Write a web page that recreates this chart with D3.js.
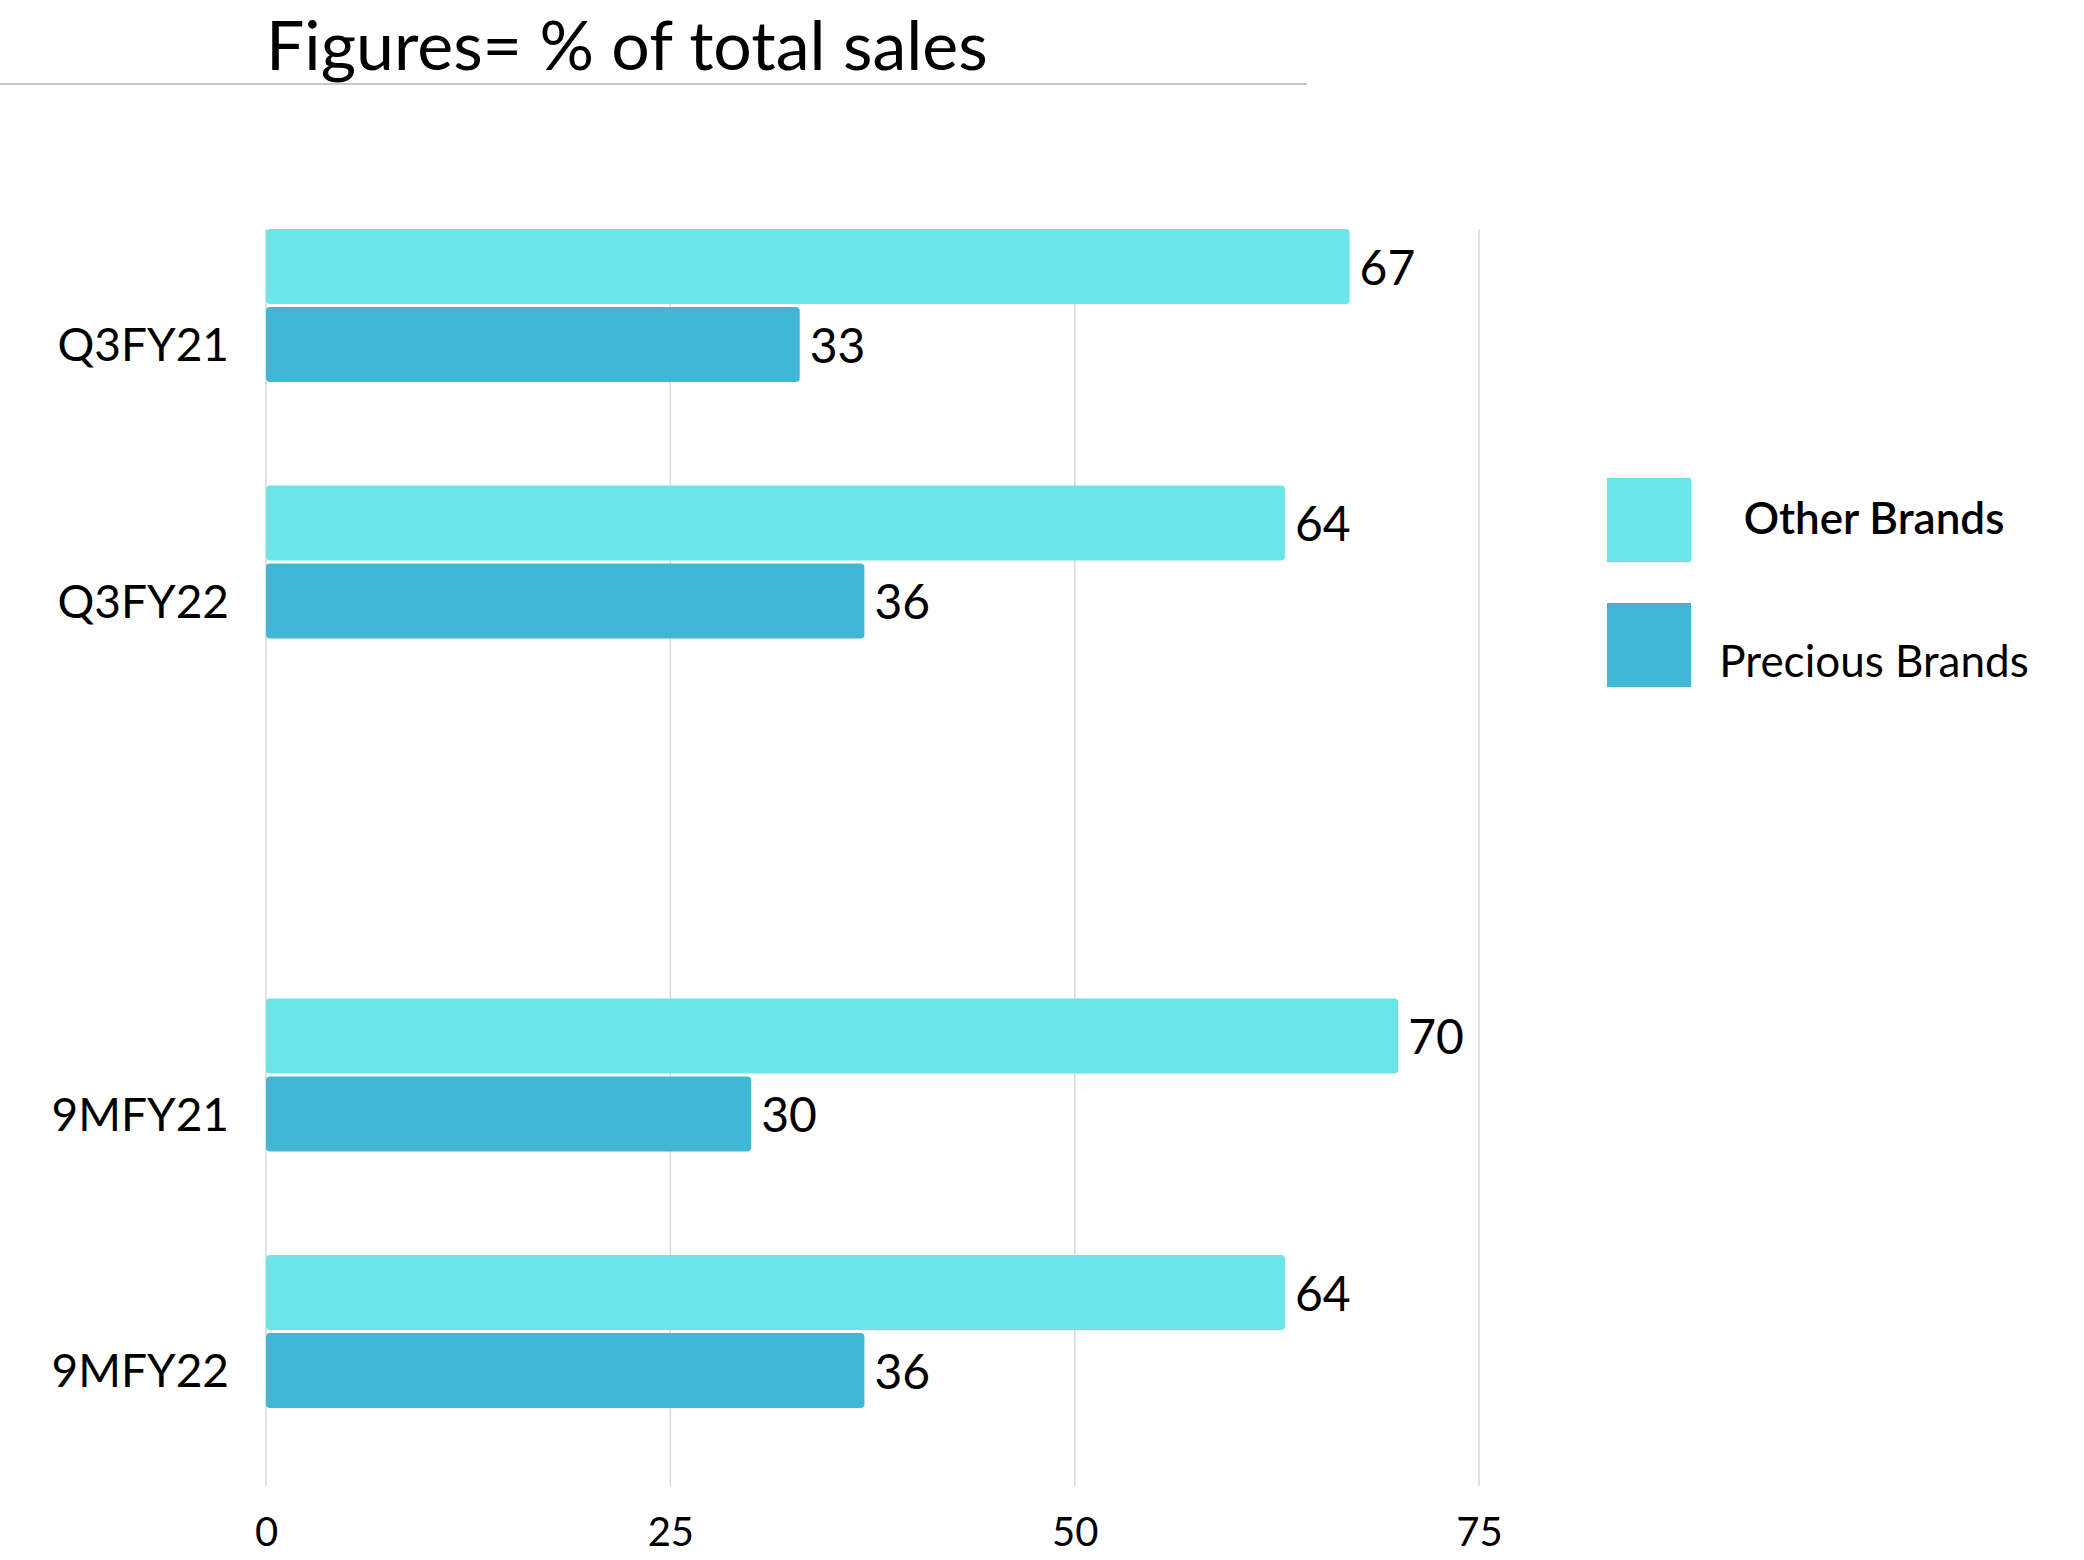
<!DOCTYPE html>
<html>
<head>
<meta charset="utf-8">
<script src="https://cdn.jsdelivr.net/npm/d3@7"></script>
<style>
  body { margin: 0; background: #fff; }
  text { font-family: Lato, "Open Sans", sans-serif; fill: #000; }
</style>
</head>
<body>
<div id="chart"></div>
<script>
var svgWidth = 2084;
var svgHeight = 1560;

// data (blank category = empty gap between quarter and 9M groups)
var categories = ["Q3FY21", "Q3FY22", "", "9MFY21", "9MFY22"];
var seriesNames = ["Other Brands", "Precious Brands"];
var otherBrands = [67, 63, 0, 70, 63];
var preciousBrands = [33, 37, 0, 30, 37];
var otherLabels = ["67", "64", "", "70", "64"];
var preciousLabels = ["33", "36", "", "30", "36"];
var xTicks = [0, 25, 50, 75];
var colors = ["#6be5e8", "#42b7d5"];

var svg = d3.select("#chart")
    .append("svg")
    .attr("width", svgWidth)
    .attr("height", svgHeight);

//Title + rule under it
svg.append("text")
    .attr("x", 266)
    .attr("y", 70)
    .attr("font-size", "68px")
    .attr("font-weight", 400)
    .text("Figures= % of total sales");

svg.append("line")
    .attr("x1", 0).attr("x2", 1307)
    .attr("y1", 84).attr("y2", 84)
    .attr("stroke", "#c8c8c8")
    .attr("stroke-width", 2);

//Scales
var xScale = d3.scaleLinear()
    .domain([0, 75])
    .range([266, 1479]);

var yScale = d3.scaleBand()
    .domain(categories)
    .range([229, 1511.5]);

var ySub = d3.scaleBand()
    .domain(seriesNames)
    .range([0, 153])
    .paddingInner(0.0385);

var gridTop = 229, gridBottom = 1486;

//Gridlines
svg.append("g")
    .selectAll("line")
    .data(xTicks)
    .enter()
    .append("line")
    .attr("x1", d => xScale(d))
    .attr("x2", d => xScale(d))
    .attr("y1", gridTop)
    .attr("y2", gridBottom)
    .attr("stroke", "#d9d9d9")
    .attr("stroke-width", 1.5);

//Bottom axis (labels only)
var bottomAxis = d3.axisBottom(xScale)
    .tickValues(xTicks)
    .tickSize(0)
    .tickPadding(32);

var axisG = svg.append("g")
    .attr("transform", `translate(0, ${gridBottom})`)
    .call(bottomAxis);
axisG.select(".domain").remove();
axisG.selectAll("text")
    .attr("font-size", "40px")
    .attr("font-family", "Lato, sans-serif")
    .attr("fill", "#000");

//Bars
var rows = categories.map(function(c, i) {
    return {
        cat: c,
        vals: [
            {series: seriesNames[0], value: otherBrands[i], label: otherLabels[i]},
            {series: seriesNames[1], value: preciousBrands[i], label: preciousLabels[i]}
        ]
    };
}).filter(d => d.cat !== "");

var groups = svg.append("g")
    .selectAll("g")
    .data(rows)
    .enter()
    .append("g")
    .attr("transform", d => `translate(0, ${yScale(d.cat)})`);

groups.selectAll("rect")
    .data(d => d.vals)
    .enter()
    .append("rect")
    .attr("x", xScale(0))
    .attr("y", d => ySub(d.series))
    .attr("width", d => xScale(d.value) - xScale(0))
    .attr("height", ySub.bandwidth())
    .attr("rx", 4)
    .attr("fill", (d, i) => colors[i]);

//Value labels
groups.selectAll("text.value")
    .data(d => d.vals)
    .enter()
    .append("text")
    .attr("class", "value")
    .attr("x", d => xScale(d.value) + 10)
    .attr("y", d => ySub(d.series) + ySub.bandwidth() / 2)
    .attr("dy", "0.38em")
    .attr("font-size", "48px")
    .text(d => d.label);

//Category labels, lined up with the second bar
groups.append("text")
    .attr("x", 229)
    .attr("y", ySub(seriesNames[1]) + ySub.bandwidth() / 2)
    .attr("dy", "0.36em")
    .attr("text-anchor", "end")
    .attr("font-size", "46px")
    .text(d => d.cat);

//Legend
var legend = svg.append("g")
    .selectAll("g")
    .data(seriesNames)
    .enter()
    .append("g")
    .attr("transform", (d, i) => `translate(1607, ${478 + i * 125})`);

legend.append("rect")
    .attr("width", 84)
    .attr("height", 84)
    .attr("fill", (d, i) => colors[i]);

legend.append("text")
    .attr("x", 267)
    .attr("y", (d, i) => i === 0 ? 40 : 58)
    .attr("dy", "0.36em")
    .attr("text-anchor", "middle")
    .attr("font-size", "44px")
    .attr("font-weight", (d, i) => i === 0 ? 600 : 400)
    .text(d => d);
</script>
</body>
</html>
